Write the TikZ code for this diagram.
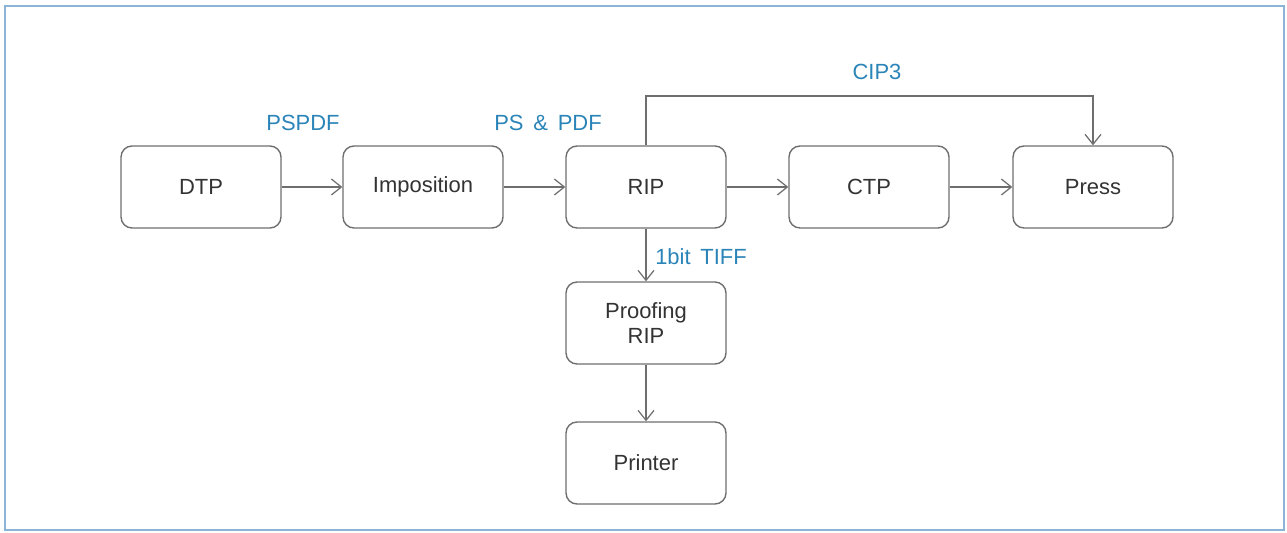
\documentclass[tikz,border=0pt]{standalone}
\usepackage{fontspec}
\setmainfont{Liberation Sans}
\usetikzlibrary{arrows.meta}
\definecolor{frameblue}{HTML}{8DB3D6}
\definecolor{labelblue}{HTML}{2A84B8}
\definecolor{linegray}{HTML}{6E6E6E}
\definecolor{textgray}{HTML}{333333}
\tikzset{
  stepbox/.style={draw=linegray, line width=0.8pt, rounded corners=0.22cm,
    minimum width=3.2cm, minimum height=1.64cm, align=center,
    text=textgray, font=\fontsize{12.5}{14.5}\selectfont},
  flow/.style={draw=linegray, line width=0.7pt,
    -{Straight Barb[length=2mm,width=3.2mm]}},
  tag/.style={text=labelblue, font=\fontsize{12.5}{14.5}\selectfont}
}
\begin{document}
\begin{tikzpicture}[x=0.02cm, y=-0.02cm]
  \useasboundingbox (0,0) rectangle (1287,533);
  %Ramme
  	\draw[frameblue, line width=1.3pt] (5,6) rectangle (1284,530);

%Bokser
    \node[stepbox] (DTP) at (201,187) {DTP};
    \node[stepbox] (Imp) at (423,187) {Imposition};
    \node[stepbox] (RIP) at (646,187) {RIP};
    \node[stepbox] (CTP) at (869,187) {CTP};
    \node[stepbox] (Press) at (1093,187) {Press};
    \node[stepbox] (Proof) at (646,323) {Proofing\\RIP};
    \node[stepbox] (Printer) at (646,463) {Printer};

%Etiketter
    \node[tag] (pspdf) at (303,123) {PSPDF};
    \node[tag] (pspdf2) at (548,123) {PS \,\&\, PDF};
    \node[tag] (cip3) at (877,72) {CIP3};
    \node[tag] (tiff) at (701,257) {1bit\, TIFF};

%Piler
    \draw[flow] (DTP) -- (Imp);
    \draw[flow] (Imp) -- (RIP);
    \draw[flow] (RIP) -- (CTP);
    \draw[flow] (CTP) -- (Press);
    \draw[flow] (RIP) -- (Proof);
    \draw[flow] (Proof) -- (Printer);

% CIP3
    \coordinate (top) at (646,96);
    \draw[flow] (RIP.north) -- (top) -| (Press.north);

\end{tikzpicture}
\end{document}
